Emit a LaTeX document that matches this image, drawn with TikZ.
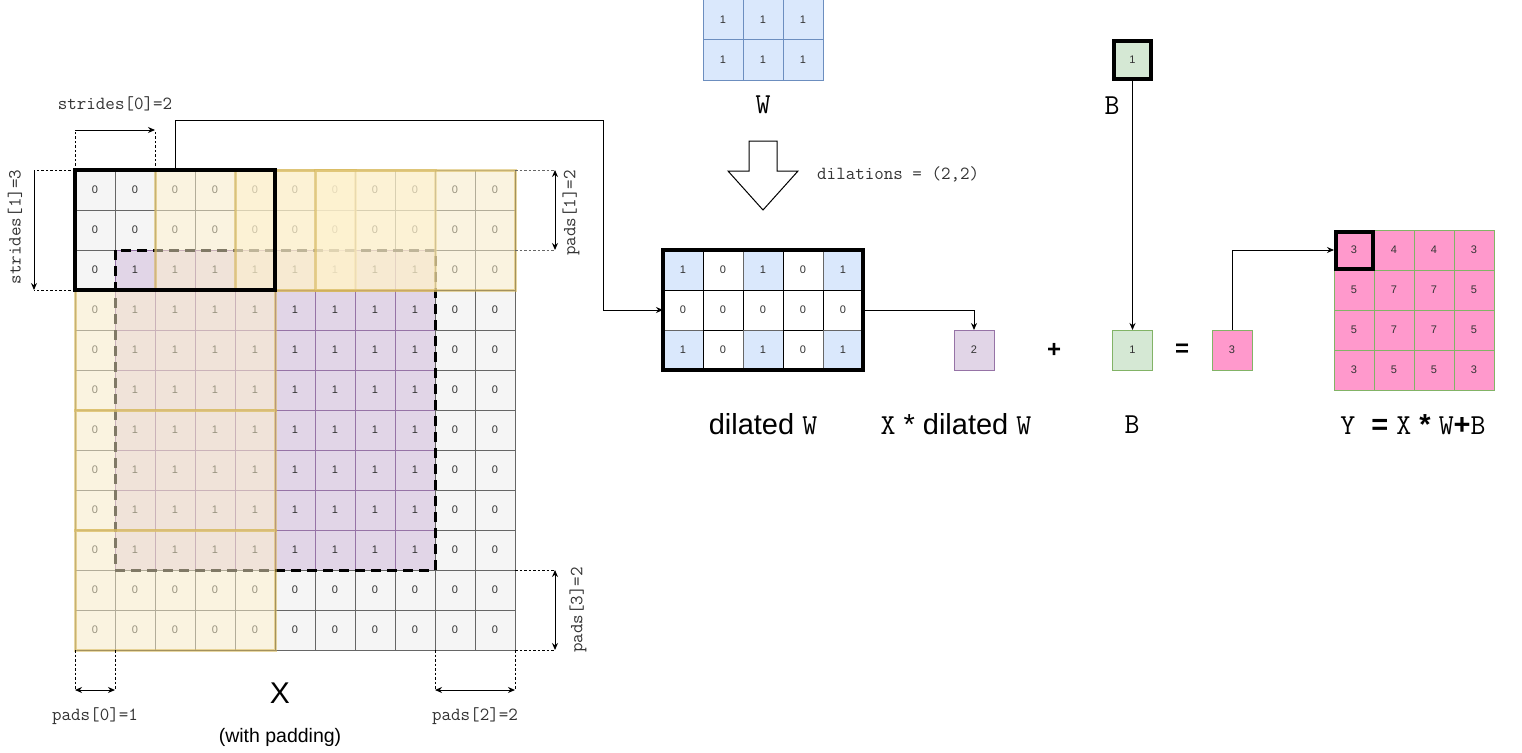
\documentclass[tikz,border=0pt]{standalone}
\usepackage{fontspec}
\setmainfont{Liberation Sans}
\usepackage{xcolor}
\usetikzlibrary{calc,positioning,arrows.meta}
\definecolor{color_fill_gray}{HTML}{f5f5f5}
\definecolor{color_line_gray}{HTML}{666666}
\definecolor{color_fill_purple}{HTML}{e1d5e7}
\definecolor{color_line_purple}{HTML}{9673a6}
\definecolor{color_fill_yellow}{HTML}{fff2cc}
\definecolor{color_line_yellow}{HTML}{d6b656}
\definecolor{color_fill_blue}{HTML}{dae8fc}
\definecolor{color_line_blue}{HTML}{6c8ebf}
\definecolor{color_fill_green}{HTML}{d5e8d4}
\definecolor{color_line_green}{HTML}{82b366}
\definecolor{color_fill_pink}{HTML}{ff99cc}
\definecolor{color_text}{HTML}{333333}
\newcommand{\monotxt}[1]{{\ttfamily #1}}

\tikzset{
	cell/.style={draw, line width=1pt, minimum size=40pt, inner sep=0pt, outer sep=0pt,
		font=\fontsize{11}{13}\selectfont, text=color_text},
	cell_gray/.style={cell, fill=color_fill_gray, draw=color_line_gray},
	cell_purple/.style={cell, fill=color_fill_purple, draw=color_line_purple},
	cell_blue/.style={cell, fill=color_fill_blue, draw=color_line_blue},
	cell_white/.style={cell, fill=white, draw=black},
	cell_green/.style={cell, fill=color_fill_green, draw=color_line_green},
	cell_pink/.style={cell, fill=color_fill_pink, draw=color_line_green},
	window/.style={draw=color_line_yellow, fill=color_fill_yellow, line width=3pt,
		fill opacity=0.5, draw opacity=0.55, minimum width=200pt, minimum height=120pt,
		anchor=north west, inner sep=0pt, outer sep=0pt},
	frame_thick/.style={draw=black, line width=4pt, inner sep=0pt, outer sep=0pt},
	conn/.style={-{Stealth[length=7pt,width=6pt]}, line width=1pt},
	dimarrow/.style={{Stealth[length=7pt,width=6pt]}-{Stealth[length=7pt,width=6pt]}, line width=1pt},
	guide/.style={dash pattern=on 2.5pt off 2pt, line width=0.8pt},
	lbl_mono/.style={font=\ttfamily\fontsize{18.5}{20}\selectfont, text=color_text, inner sep=0pt},
	lbl_big/.style={font=\fontsize{29}{32}\selectfont, inner sep=0pt},
	lbl_bigmono/.style={font=\ttfamily\fontsize{29}{32}\selectfont, inner sep=0pt},
	lbl_op/.style={font=\bfseries\fontsize{24}{26}\selectfont, inner sep=0pt},
}

\begin{document}
\begin{tikzpicture}[x=1pt,y=-1pt]
	\useasboundingbox (0,0) rectangle (1522,752);

	% Padded input X
	\foreach \r in {0,...,11}{
		\foreach \c in {0,...,10}{
			\pgfmathtruncatemacro{\v}{(\r>1)*(\r<10)*(\c>0)*(\c<9)}
			\ifnum\v=1
				\node[cell_purple] (x-\r-\c) at ({95+40*\c},{190+40*\r}) {1};
			\else
				\node[cell_gray] (x-\r-\c) at ({95+40*\c},{190+40*\r}) {0};
			\fi
		}
	}
	\draw[line width=3pt, dash pattern=on 10pt off 6pt]
		(x-2-1.north west) rectangle (x-9-8.south east);

	% Windows of dilated W
	\foreach \k in {1,2,3}{
		\pgfmathtruncatemacro{\c}{2*\k}
		\pgfmathtruncatemacro{\r}{3*\k}
		\node[window] (win-0-\k) at (x-0-\c.north west) {};
		\node[window] (win-\k-0) at (x-\r-0.north west) {};
	}
	\node[frame_thick, minimum width=200pt, minimum height=120pt, anchor=north west]
		(win-0-0) at (x-0-0.north west) {};

	% strides[0]
	\coordinate (s0a) at ($(x-0-0.north west)+(0,-40)$);
	\coordinate (s0b) at ($(x-0-2.north west)+(0,-40)$);
	\draw[guide] (x-0-0.north west) -- (s0a) (x-0-2.north west) -- (s0b);
	\draw[conn] (s0a) -- (s0b);
	\node[lbl_mono] (s0-label) at ($(s0a)!0.5!(s0b)+(0,-26)$) {strides[0]=2};

	% strides[1]
	\coordinate (s1a) at ($(x-0-0.north west)+(-41,0)$);
	\coordinate (s1b) at ($(x-2-0.south west)+(-41,0)$);
	\draw[guide] (x-0-0.north west) -- (s1a) (x-2-0.south west) -- (s1b);
	\draw[conn] (s1a) -- (s1b);
	\node[lbl_mono, rotate=90] (s1-label) at ($(s1a)!0.5!(s1b)+(-19,-3)$) {strides[1]=3};

	% pads[1]
	\coordinate (p1a) at ($(x-0-10.north east)+(40,0)$);
	\coordinate (p1b) at ($(x-1-10.south east)+(40,0)$);
	\draw[guide, color_line_gray] (x-0-10.north east) -- (p1a) (x-1-10.south east) -- (p1b);
	\draw[dimarrow] (p1a) -- (p1b);
	\node[lbl_mono, rotate=90] (p1-label) at ($(p1a)!0.5!(p1b)+(16,3)$) {pads[1]=2};

	% pads[3]
	\coordinate (p3a) at ($(x-9-10.south east)+(40,0)$);
	\coordinate (p3b) at ($(x-11-10.south east)+(40,0)$);
	\draw[guide] (x-9-10.south east) -- (p3a) (x-11-10.south east) -- (p3b);
	\draw[dimarrow] (p3a) -- (p3b);
	\node[lbl_mono, rotate=90] (p3-label) at ($(p3a)!0.5!(p3b)+(23,0)$) {pads[3]=2};

	% pads[0]
	\coordinate (p0a) at ($(x-11-0.south west)+(0,40)$);
	\coordinate (p0b) at ($(x-11-0.south east)+(0,40)$);
	\draw[guide] (x-11-0.south west) -- (p0a) (x-11-0.south east) -- (p0b);
	\draw[dimarrow] (p0a) -- (p0b);
	\node[lbl_mono] (p0-label) at ($(p0a)!0.5!(p0b)+(0,26)$) {pads[0]=1};

	% pads[2]
	\coordinate (p2a) at ($(x-11-9.south west)+(0,40)$);
	\coordinate (p2b) at ($(x-11-10.south east)+(0,40)$);
	\draw[guide] (x-11-9.south west) -- (p2a) (x-11-10.south east) -- (p2b);
	\draw[dimarrow] (p2a) -- (p2b);
	\node[lbl_mono] (p2-label) at ($(p2a)!0.5!(p2b)+(0,26)$) {pads[2]=2};

	\node[lbl_big, font=\fontsize{30}{32}\selectfont] (x-label) at ($(x-11-4.south east)+(5,43)$) {X};
	\node[lbl_big, font=\fontsize{19.5}{22}\selectfont] (x-note) at ($(x-11-4.south east)+(5,87)$) {(with padding)};

	% Kernel W
	\foreach \r in {0,1}{
		\foreach \c in {0,1,2}{
			\node[cell_blue] (w-\r-\c) at ({723+40*\c},{20+40*\r}) {1};
		}
	}
	\node[lbl_bigmono] (w-label) at ($(w-1-1.south)+(0,25)$) {W};
	\draw[line width=1pt, fill=white]
		($(w-1-1.south)+(-14,61)$) -- ++(28,0) -- ++(0,30) -- ++(21,0)
		-- ($(w-1-1.south)+(0,130)$)
		-- ($(w-1-1.south)+(-35,91)$) -- ++(21,0) -- cycle;
	\node[lbl_mono, anchor=west] (dil-label) at ($(w-1-1.south)+(54,94)$) {dilations = (2,2)};

	% Dilated W
	\foreach \r in {0,1,2}{
		\foreach \c in {0,...,4}{
			\pgfmathtruncatemacro{\v}{(mod(\r,2)==0)*(mod(\c,2)==0)}
			\ifnum\v=1
				\node[cell_blue, draw=color_line_gray] (dw-\r-\c) at ({683+40*\c},{270+40*\r}) {1};
			\else
				\node[cell_white] (dw-\r-\c) at ({683+40*\c},{270+40*\r}) {0};
			\fi
		}
	}
	\node[frame_thick, minimum width=200pt, minimum height=120pt, anchor=north west]
		(dw) at (dw-0-0.north west) {};
	\draw[conn] (win-0-0.north) -- ++(0,-50) -| ($(dw.west)+(-60,0)$) -- (dw.west);

	% Result of one window
	\node[cell_purple] (res) at (974,350) {2};
	\node[lbl_op] (op-plus) at (1054,350) {+};
	\node[cell_green] (bias) at (1132.5,350) {1};
	\node[lbl_op] (op-eq) at (1182,350) {=};
	\node[cell_pink] (sum) at (1232,350) {3};
	\draw[conn] (dw.east) -| (res.north);

	% Bias B
	\node[cell_green, draw=black, line width=4pt, minimum size=37pt] (b-top) at (1132.5,60) {1};
	\node[lbl_bigmono] (b-label) at (1112,106) {B};
	\draw[conn] (b-top.south) -- (bias.north);

	% Output Y
	\foreach \v [count=\i from 0] in {3,4,4,3,5,7,7,5,5,7,7,5,3,5,5,3}{
		\pgfmathtruncatemacro{\r}{div(\i,4)}
		\pgfmathtruncatemacro{\c}{mod(\i,4)}
		\node[cell_pink] (y-\r-\c) at ({1354+40*\c},{250+40*\r}) {\v};
	}
	\node[frame_thick, minimum size=37pt] (y-focus) at (y-0-0) {};
	\draw[conn] (sum.north) |- (y-0-0.west);

	% Captions
	\node[lbl_big] (dw-caption) at (763,424) {dilated \monotxt{W}};
	\node[lbl_big] (res-caption) at (956,424) {\monotxt{X} * dilated \monotxt{W}};
	\node[lbl_bigmono] (bias-caption) at (1132,425) {B};
	\node[lbl_big] (y-caption) at (1413,425)
		{\monotxt{Y}\; \textbf{=} \monotxt{X} \textbf{*} \monotxt{W}\textbf{+}\monotxt{B}};
\end{tikzpicture}
\end{document}
